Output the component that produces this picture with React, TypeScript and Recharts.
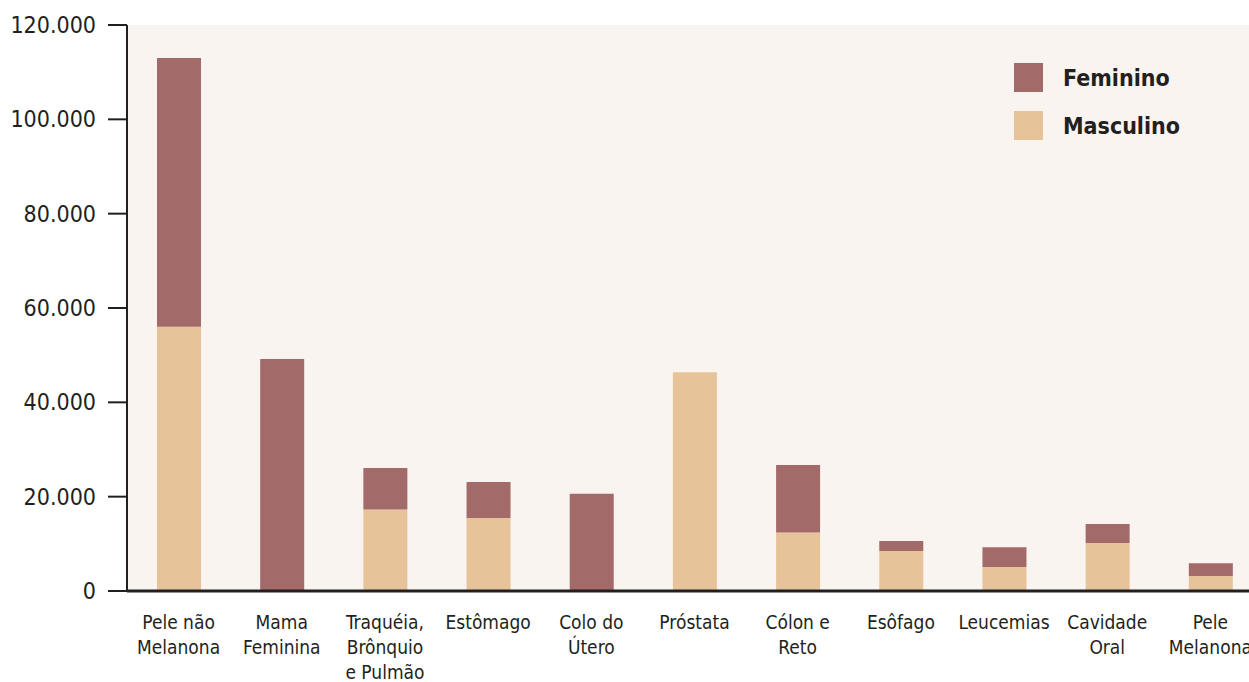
import { BarChart, Bar, XAxis, YAxis, CartesianGrid, Legend } from 'recharts'

const categories = [
  'Pele não\nMelanona',
  'Mama\nFeminina',
  'Traquéia,\nBrônquio\ne Pulmão',
  'Estômago',
  'Colo do\nÚtero',
  'Próstata',
  'Cólon e\nReto',
  'Esôfago',
  'Leucemias',
  'Cavidade\nOral',
  'Pele\nMelanona',
]
const masculino = [56000, 0, 17300, 15500, 0, 46400, 12400, 8500, 5100, 10200, 3200]
const feminino = [57000, 49200, 8800, 7600, 20600, 0, 14300, 2100, 4200, 4000, 2700]
const yTicks = [0, 20000, 40000, 60000, 80000, 100000, 120000]

const data = categories.map((name, i) => ({
  name,
  Masculino: masculino[i],
  Feminino: feminino[i],
}))

const FONT = "'Liberation Sans Narrow', 'Arial Narrow', 'DejaVu Sans Condensed', Roboto, sans-serif"
const INK = '#231f20'
const COLORS: Record<string, string> = { Feminino: '#a36a6a', Masculino: '#e6c399' }
const legendOrder = ['Feminino', 'Masculino']

const fmt = (v: number) => String(v).replace(/\B(?=(\d{3})+(?!\d))/g, '.')

function CategoryTick(props: any) {
  const { x, y, payload } = props
  const lines = String(payload.value).split('\n')
  return (
    <text x={x} y={y + 30} textAnchor="middle" fill={INK} fontFamily={FONT} fontSize={19}>
      {lines.map((line, i) => (
        <tspan key={i} x={x} dy={i === 0 ? 0 : 25}>
          {line}
        </tspan>
      ))}
    </text>
  )
}

function LegendBox() {
  return (
    <div style={{ display: 'flex', flexDirection: 'column', gap: 19 }}>
      {legendOrder.map((key) => (
        <div key={key} style={{ display: 'flex', alignItems: 'center' }}>
          <div style={{ width: 29, height: 29, background: COLORS[key] }} />
          <span
            style={{
              marginLeft: 20,
              fontFamily: FONT,
              fontWeight: 'bold',
              fontSize: 23,
              color: INK,
            }}
          >
            {key}
          </span>
        </div>
      ))}
    </div>
  )
}

export default function App() {
  return (
    <div
      style={{
        position: 'fixed',
        left: 0,
        top: 0,
        width: 1249,
        height: 682,
        overflow: 'hidden',
        background: '#fff',
      }}
    >
      <BarChart
        width={1262}
        height={682}
        data={data}
        margin={{ top: 25, right: 0, bottom: 0, left: 0 }}
        barSize={44}
      >
        <CartesianGrid fill="#f9f4f0" stroke="none" horizontal={false} vertical={false} />
        <XAxis
          dataKey="name"
          height={91}
          interval={0}
          tickLine={false}
          axisLine={{ stroke: INK, strokeWidth: 3 }}
          tick={<CategoryTick />}
        />
        <YAxis
          width={127}
          domain={[0, 120000]}
          ticks={yTicks}
          tickFormatter={fmt}
          tickSize={19}
          tickMargin={12}
          axisLine={{ stroke: INK, strokeWidth: 2 }}
          tickLine={{ stroke: INK, strokeWidth: 2 }}
          tick={{ fill: INK, fontFamily: FONT, fontSize: 23 }}
        />
        <Legend
          layout="horizontal"
          verticalAlign="middle"
          align="center"
          content={<LegendBox />}
          wrapperStyle={{ top: 63, left: 1014, width: 220, height: 80 }}
        />
        <Bar dataKey="Masculino" stackId="a" fill={COLORS.Masculino} isAnimationActive={false} />
        <Bar dataKey="Feminino" stackId="a" fill={COLORS.Feminino} isAnimationActive={false} />
      </BarChart>
    </div>
  )
}
